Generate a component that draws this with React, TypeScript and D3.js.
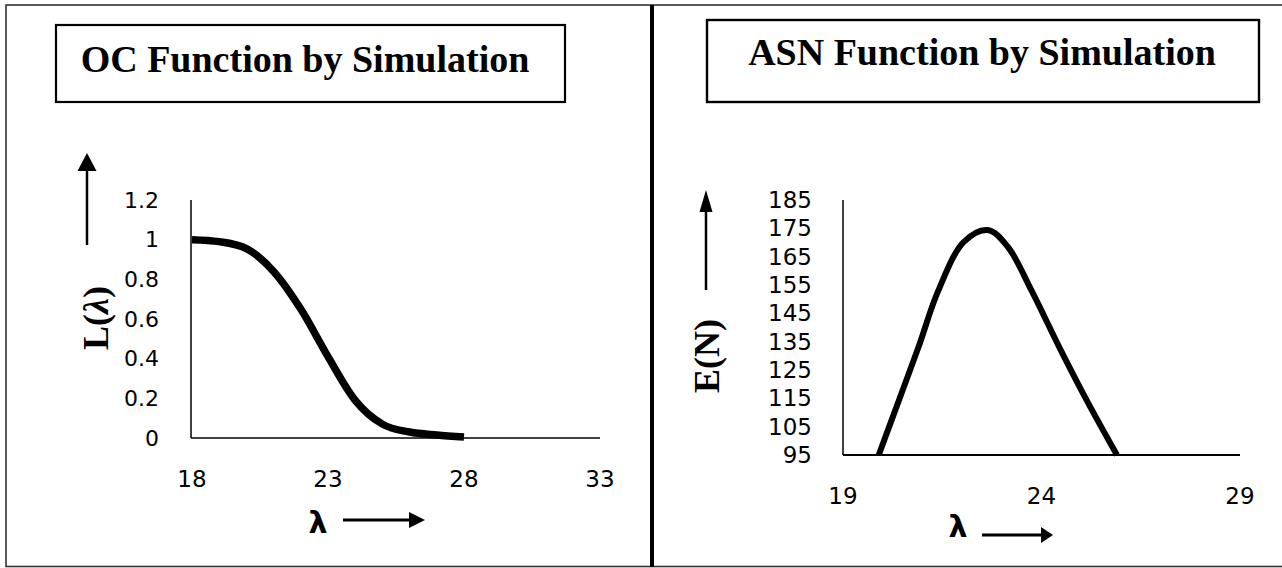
import React from "react";
import * as d3 from "d3";

// ---- Data ----
const ocLambda = [18, 19, 20, 21, 22, 23, 24, 25, 26, 27, 28];
const ocValues = [1.0, 0.99, 0.955, 0.84, 0.65, 0.41, 0.19, 0.07, 0.03, 0.015, 0.005];
const ocYTicks = [0, 0.2, 0.4, 0.6, 0.8, 1, 1.2];
const ocXTicks = [18, 23, 28, 33];

const asnLambda = [19.9, 20.4, 20.9, 21.4, 22.05, 22.65, 23.15, 23.75, 24.45, 25.15, 25.9];
const asnValues = [95, 114, 133, 153, 170.3, 174.4, 168.5, 153, 133, 114, 95];
const asnYTicks = [95, 105, 115, 125, 135, 145, 155, 165, 175, 185];
const asnXTicks = [19, 24, 29];

const ocTitle = "OC Function by Simulation";
const asnTitle = "ASN Function by Simulation";

const tickFont = "'DejaVu Sans', Lato, sans-serif";
const serif = "'Liberation Serif', 'DejaVu Serif', serif";

function UpArrow({ x, tip, base, bottom, half }: { x: number; tip: number; base: number; bottom: number; half: number }) {
  return (
    <g>
      <line x1={x} x2={x} y1={base - 1} y2={bottom} stroke="#000" strokeWidth={2.5} />
      <path d={`M${x},${tip} L${x + half},${base} L${x - half},${base} Z`} fill="#000" />
    </g>
  );
}

function RightArrow({ x1, x2, head, y, half }: { x1: number; x2: number; head: number; y: number; half: number }) {
  return (
    <g>
      <line x1={x1} x2={x2 - head + 1} y1={y} y2={y} stroke="#000" strokeWidth={3} />
      <path d={`M${x2},${y} L${x2 - head},${y - half} L${x2 - head},${y + half} Z`} fill="#000" />
    </g>
  );
}

export default function App() {
  // Left panel scales
  const ocX = d3.scaleLinear().domain([18, 33]).range([192, 600]);
  const ocY = d3.scaleLinear().domain([0, 1.2]).range([438, 200]);
  const ocLine = d3
    .line<number>()
    .x((_, i) => ocX(ocLambda[i]))
    .y((d) => ocY(d))
    .curve(d3.curveMonotoneX);

  // Right panel scales
  const asnX = d3.scaleLinear().domain([19, 29]).range([843, 1240]);
  const asnY = d3.scaleLinear().domain([95, 185]).range([455, 200]);
  const asnLine = d3
    .line<number>()
    .x((_, i) => asnX(asnLambda[i]))
    .y((d) => asnY(d))
    .curve(d3.curveCatmullRom.alpha(0.5));

  return (
    <svg
      width={1282}
      height={568}
      style={{ position: "absolute", left: 0, top: 0, background: "#fff" }}
    >
      <rect x={0} y={0} width={1282} height={568} fill="#fff" />
      {/* outer frame */}
      <rect x={6} y={5} width={1290} height={561.5} fill="none" stroke="#333" strokeWidth={1.6} />
      {/* divider */}
      <line x1={652} x2={652} y1={5} y2={567} stroke="#000" strokeWidth={4} />

      {/* ---------- Left panel ---------- */}
      <rect x={56} y={25} width={509} height={77} fill="none" stroke="#000" strokeWidth={2.2} />
      <text x={305} y={72} textAnchor="middle" fontFamily={serif} fontWeight="bold" fontSize={38}>
        {ocTitle}
      </text>

      <UpArrow x={87} tip={153} base={171} bottom={245} half={9.5} />
      <text
        transform={`translate(96,318) rotate(-90)`}
        textAnchor="middle"
        dominantBaseline="central"
        fontFamily={serif}
        fontWeight="bold"
        fontSize={36}
      >
        L(<tspan fontStyle="italic">λ</tspan>)
      </text>

      {ocYTicks.map((t) => (
        <text
          key={"oy" + t}
          x={159}
          y={ocY(t)}
          textAnchor="end"
          dominantBaseline="central"
          fontFamily={tickFont}
          fontSize={22}
        >
          {String(t)}
        </text>
      ))}
      {ocXTicks.map((t) => (
        <text
          key={"ox" + t}
          x={ocX(t)}
          y={479}
          textAnchor="middle"
          dominantBaseline="central"
          fontFamily={tickFont}
          fontSize={23}
        >
          {String(t)}
        </text>
      ))}

      <line x1={ocX(18) - 1} x2={ocX(18) - 1} y1={ocY(1.2)} y2={ocY(0)} stroke="#000" strokeWidth={1.5} />
      <line x1={ocX(18) - 1} x2={ocX(33)} y1={ocY(0)} y2={ocY(0)} stroke="#000" strokeWidth={1.5} />
      <path d={ocLine(ocValues) || ""} fill="none" stroke="#000" strokeWidth={7.5} strokeLinecap="butt" />

      <text x={318} y={522} textAnchor="middle" dominantBaseline="central" fontFamily="'DejaVu Sans', sans-serif" fontWeight="bold" fontSize={30}>
        λ
      </text>
      <RightArrow x1={343} x2={425} head={16} y={520} half={8} />

      {/* ---------- Right panel ---------- */}
      <rect x={707} y={20} width={552} height={82} fill="none" stroke="#000" strokeWidth={2.4} />
      <text x={982} y={65} textAnchor="middle" fontFamily={serif} fontWeight="bold" fontSize={38}>
        {asnTitle}
      </text>

      <UpArrow x={706} tip={190} base={212} bottom={290} half={6.5} />
      <text
        transform={`translate(707,356) rotate(-90)`}
        textAnchor="middle"
        dominantBaseline="central"
        fontFamily={serif}
        fontWeight="bold"
        fontSize={36}
      >
        E(N)
      </text>

      {asnYTicks.map((t) => (
        <text
          key={"ay" + t}
          x={812}
          y={asnY(t)}
          textAnchor="end"
          dominantBaseline="central"
          fontFamily={tickFont}
          fontSize={23}
        >
          {String(t)}
        </text>
      ))}
      {asnXTicks.map((t) => (
        <text
          key={"ax" + t}
          x={asnX(t)}
          y={496}
          textAnchor="middle"
          dominantBaseline="central"
          fontFamily={tickFont}
          fontSize={23}
        >
          {String(t)}
        </text>
      ))}

      <line x1={asnX(19)} x2={asnX(19)} y1={asnY(185)} y2={asnY(95)} stroke="#000" strokeWidth={1.5} />
      <line x1={asnX(19)} x2={asnX(29)} y1={asnY(95)} y2={asnY(95)} stroke="#000" strokeWidth={1.8} />
      <path d={asnLine(asnValues) || ""} fill="none" stroke="#000" strokeWidth={6} strokeLinecap="butt" strokeLinejoin="round" />

      <text x={958} y={526} textAnchor="middle" dominantBaseline="central" fontFamily="'DejaVu Sans', sans-serif" fontWeight="bold" fontSize={30}>
        λ
      </text>
      <RightArrow x1={982} x2={1053} head={12} y={535} half={8} />
    </svg>
  );
}
